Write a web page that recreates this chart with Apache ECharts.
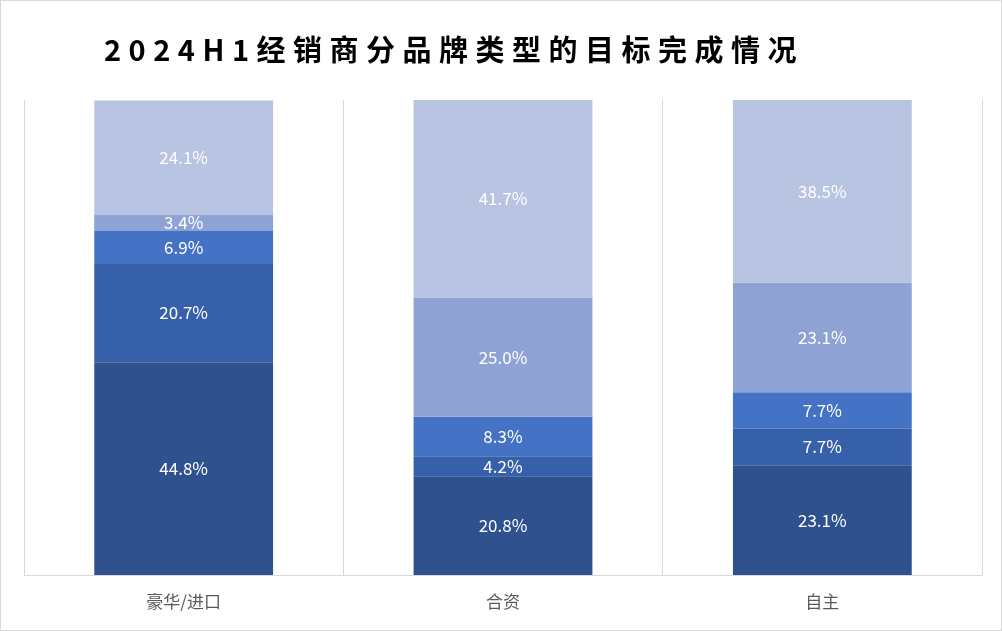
<!DOCTYPE html>
<html><head><meta charset="utf-8">
<script src="https://cdn.jsdelivr.net/npm/echarts@6/dist/echarts.min.js"></script>
<style>html,body{margin:0;padding:0;background:#fff}
#wrap{position:relative;width:1002px;height:631px;box-sizing:border-box;border:1px solid #d9d9d9}
#c{width:1000px;height:629px}
#t{position:absolute;left:103px;top:26px;font:bold 29px "Noto Sans CJK SC";letter-spacing:7.5px;color:#000;z-index:2}</style>
</head><body><div id="wrap"><div id="t">2024H1经销商分品牌类型的目标完成情况</div><div id="c"></div></div>
<script>
var categories = ["豪华/进口", "合资", "自主"];
var s1 = [44.8, 20.8, 23.1];
var s2 = [20.7, 4.2, 7.7];
var s3 = [6.9, 8.3, 7.7];
var s4 = [3.4, 25.0, 23.1];
var s5 = [24.1, 41.7, 38.5];
var colors = ["#2F528F", "#3760AB", "#4472C4", "#8FA2D4", "#B9C3E2"];

var chart = echarts.init(document.getElementById("c"));
var mk = function (data, i) {
  return {
    type: "bar", stack: "a", data: data, barWidth: "56%",
    itemStyle: { color: colors[i] },
    label: { show: true, color: "#fff", fontSize: 17, fontFamily: "Noto Sans CJK SC",
      formatter: function (p) { return p.value.toFixed(1) + "%"; } }
  };
};
chart.setOption({
  animation: false,
  grid: { left: 23, right: 19, top: 99, bottom: 55 },
  xAxis: { type: "category", data: categories,
    axisLine: { lineStyle: { color: "#d9d9d9" } }, axisTick: { show: false },
    splitLine: { show: true, lineStyle: { color: "#d9d9d9" } },
    axisLabel: { color: "#595959", fontSize: 17, margin: 18, fontFamily: "Noto Sans CJK SC" } },
  yAxis: { type: "value", min: 0, max: 100, show: false },
  series: [mk(s1, 0), mk(s2, 1), mk(s3, 2), mk(s4, 3), mk(s5, 4)]
});
</script></body></html>
